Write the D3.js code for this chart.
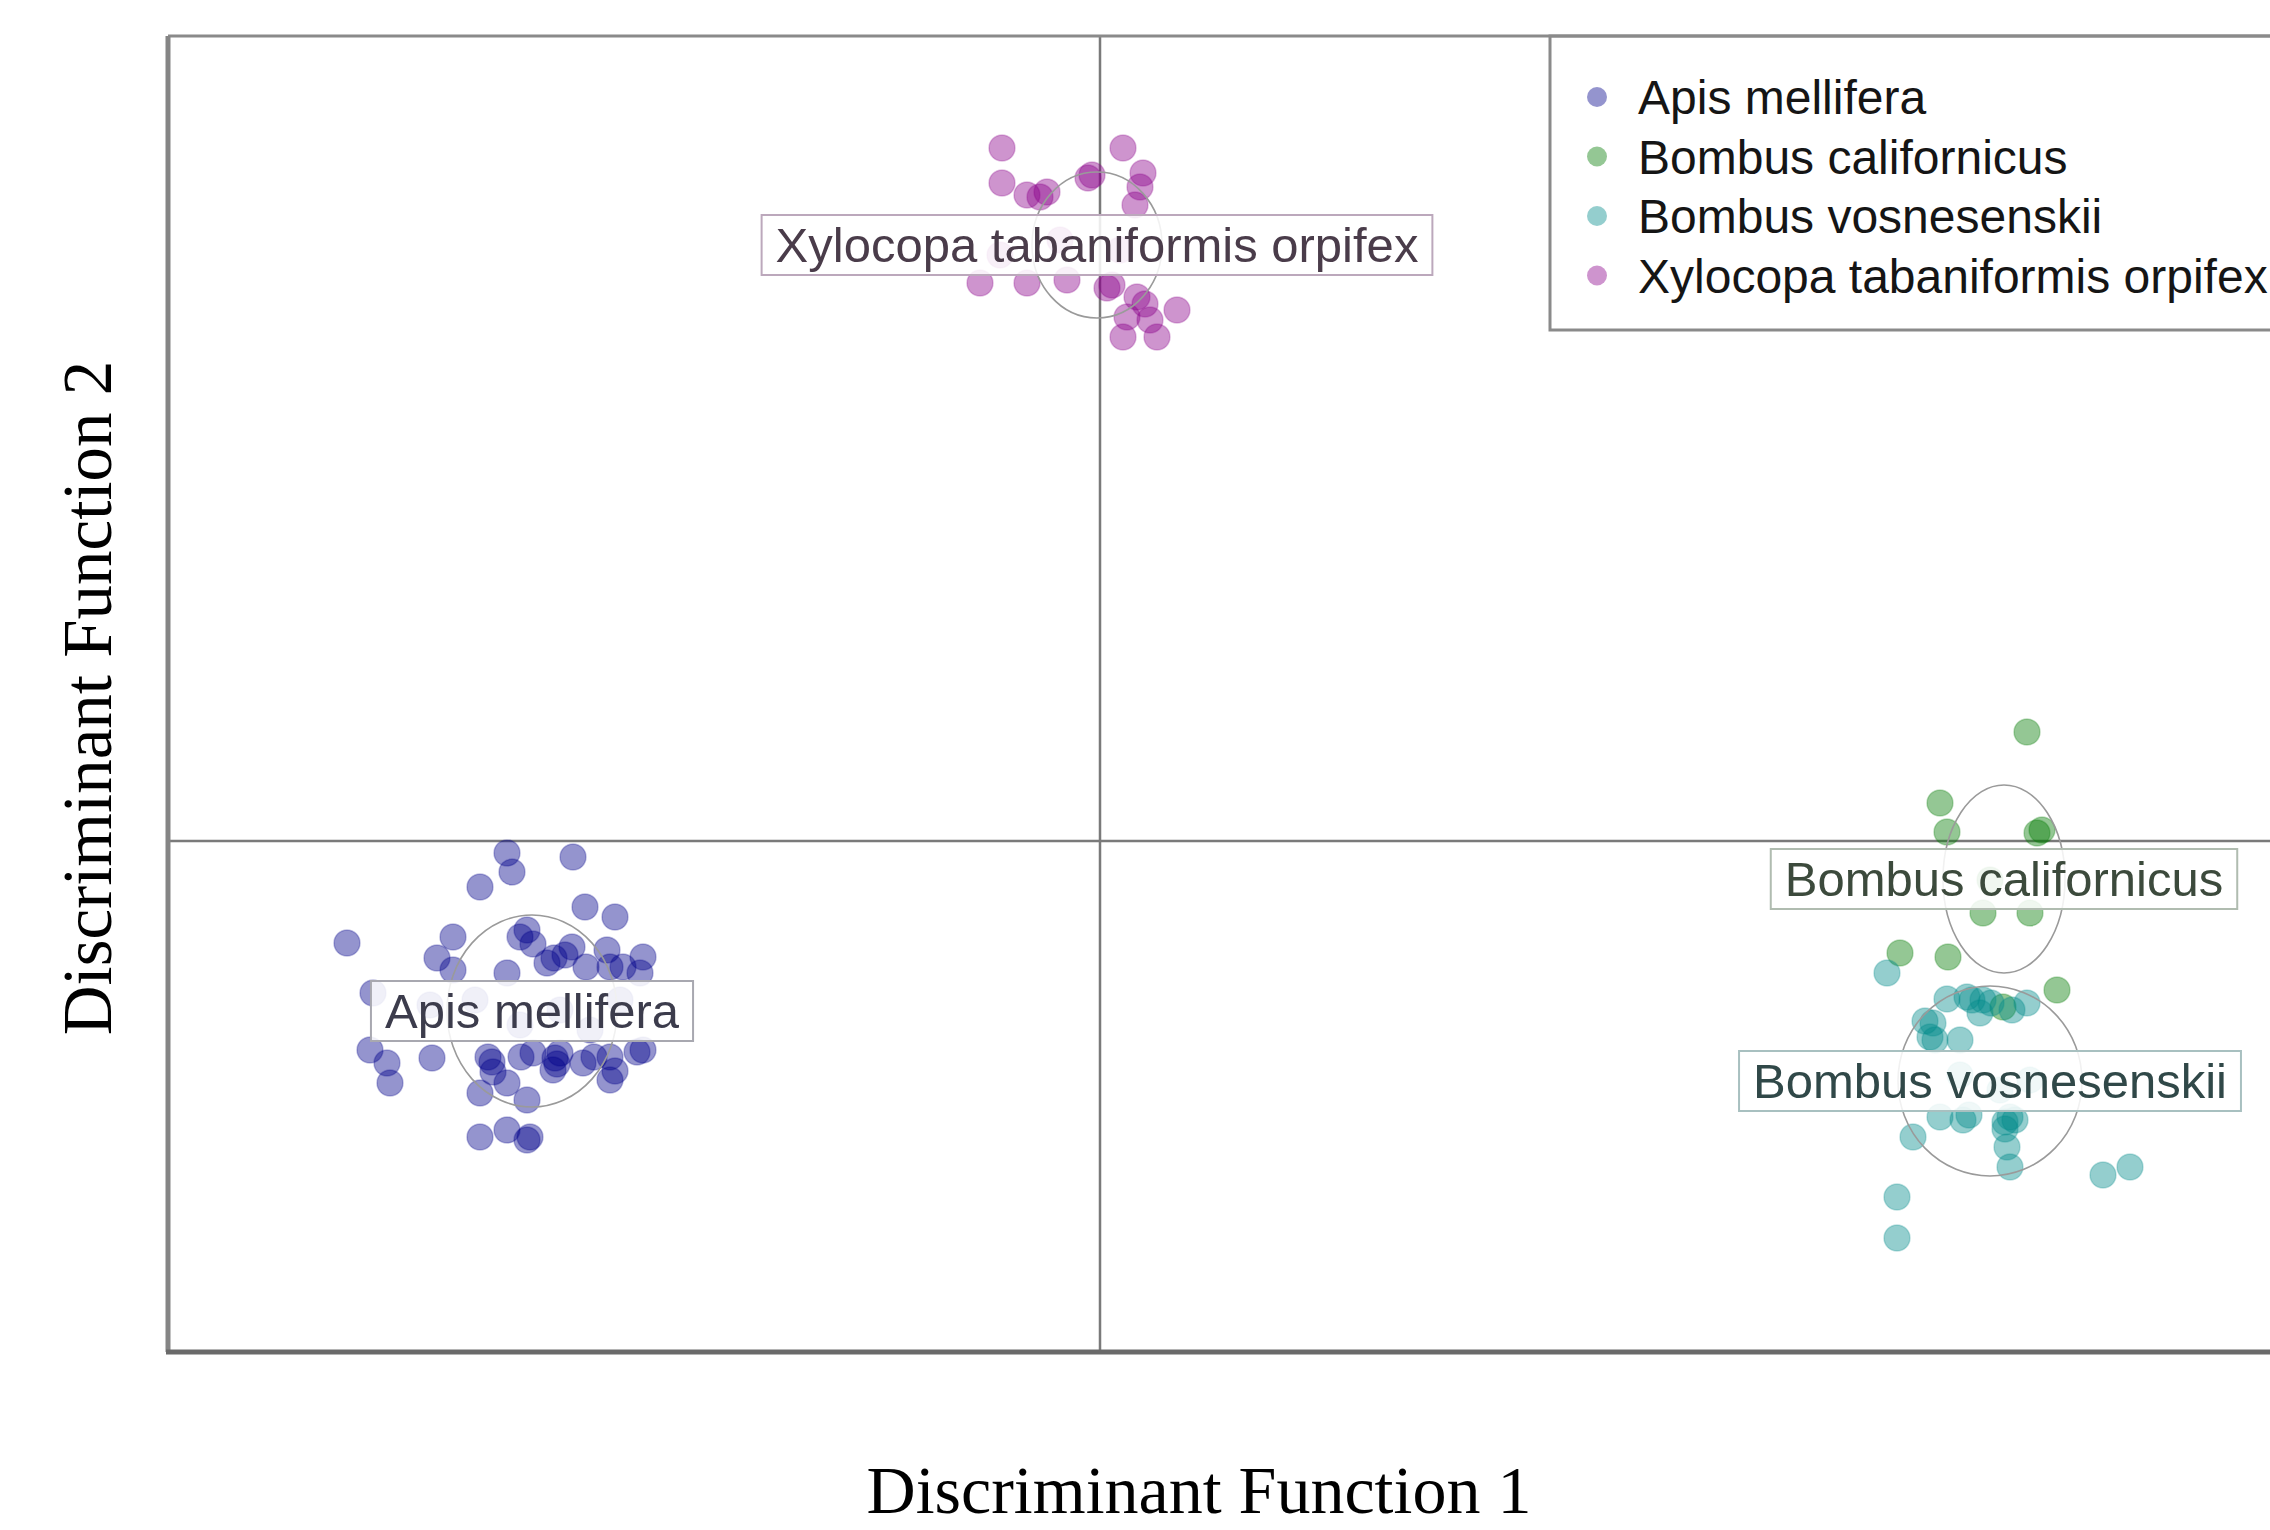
<!DOCTYPE html>
<html>
<head>
<meta charset="utf-8">
<script src="https://cdn.jsdelivr.net/npm/d3@7"></script>
<style>
  body { margin: 0; background: #fff; }
</style>
</head>
<body>
<div id="chart"></div>
<script>
// species names, in legend order
var species = ["Apis mellifera", "Bombus californicus", "Bombus vosnesenskii", "Xylocopa tabaniformis orpifex"];
var colors = ["#00008b", "#007a00", "#008b8b", "#8b008b"];

// discriminant scores [DF1, DF2]
var apis = [
    [-5.93, -0.12], [-5.27, -0.16], [-5.88, -0.31], [-6.20, -0.46], [-5.15, -0.66], [-4.85, -0.76],
    [-7.53, -1.02], [-6.47, -0.96], [-5.80, -0.96], [-5.67, -1.03], [-5.73, -0.89], [-6.63, -1.17],
    [-5.28, -1.06], [-5.35, -1.14], [-4.93, -1.09], [-4.57, -1.16], [-5.53, -1.22], [-4.90, -1.26],
    [-6.47, -1.29], [-5.93, -1.32], [-4.60, -1.32], [-7.27, -1.52], [-6.70, -1.64], [-6.25, -1.59],
    [-5.40, -1.69], [-4.80, -1.59], [-5.80, -1.84], [-5.10, -1.89], [-7.30, -2.09], [-7.13, -2.22],
    [-7.10, -2.42], [-6.68, -2.17], [-6.12, -2.16], [-6.08, -2.21], [-6.07, -2.31], [-5.67, -2.12],
    [-5.40, -2.12], [-5.45, -2.17], [-5.17, -2.22], [-4.90, -2.16], [-4.57, -2.09], [-4.90, -2.39],
    [-5.47, -2.29], [-6.20, -2.52], [-5.93, -2.42], [-5.73, -2.59], [-6.20, -2.96], [-5.93, -2.89],
    [-5.73, -2.99], [-5.70, -2.96], [-5.46, -1.17], [-5.14, -1.26], [-4.77, -1.26], [-5.06, -2.16],
    [-5.43, -2.23], [-5.79, -2.16], [-4.63, -2.11], [-4.85, -2.30]
];
var californicus = [
    [9.27, 1.09], [8.40, 0.38], [8.47, 0.09], [9.42, 0.11], [9.37, 0.08], [8.83, -0.72],
    [9.30, -0.72], [8.00, -1.12], [8.48, -1.16], [9.57, -1.49], [9.03, -1.66], [8.90, -0.39]
];
var vosnesenskii = [
    [7.87, -1.32], [8.67, -1.56], [8.72, -1.59], [8.83, -1.59], [9.27, -1.62], [8.33, -1.82],
    [8.30, -1.96], [8.35, -1.99], [8.60, -1.99], [8.80, -1.72], [8.40, -2.76], [8.63, -2.79],
    [8.13, -2.96], [9.10, -2.76], [9.05, -2.81], [9.15, -2.79], [9.07, -3.06], [9.10, -3.26],
    [10.03, -3.34], [10.30, -3.26], [7.97, -3.56], [7.97, -3.97], [8.60, -2.34], [9.30, -2.39],
    [9.00, -2.49], [8.47, -1.58], [8.91, -1.62], [9.12, -1.69], [8.25, -1.80], [8.69, -2.74],
    [9.05, -2.88]
];
var xylocopa = [
    [-0.98, 6.93], [0.23, 6.93], [-0.98, 6.58], [-0.73, 6.46], [-0.53, 6.49], [-0.60, 6.44],
    [-0.08, 6.66], [-0.12, 6.63], [0.43, 6.68], [0.40, 6.54], [0.35, 6.36], [-1.20, 5.58],
    [-0.73, 5.58], [-0.33, 5.61], [0.07, 5.53], [0.12, 5.56], [0.37, 5.44], [0.27, 5.24],
    [0.77, 5.31], [0.23, 5.04], [0.57, 5.04], [0.50, 5.21], [0.45, 5.37], [-0.40, 6.01],
    [0.20, 5.91], [-1.00, 5.86]
];
var scores = [apis, californicus, vosnesenskii, xylocopa];

// group centres [DF1, DF2] and ellipse radii [rx, ry]
var centres = [[-5.68, -1.70], [9.04, -0.38], [8.90, -2.40], [-0.03, 5.96]];
var radii = [[0.85, 0.96], [0.61, 0.94], [0.92, 0.95], [0.65, 0.73]];

var drawChart = function () {
    var width = 2270, height = 1530;
    var plotLeft = 168, plotTop = 36, plotBottom = 1352, plotRight = 2292;

    var svg = d3.select("#chart")
        .append("svg")
        .attr("width", width)
        .attr("height", height);

    // scales: origin of both functions sits on the cross lines
    var x = d3.scaleLinear().domain([-9.32, 11.92]).range([plotLeft, plotRight]);
    var y = d3.scaleLinear().domain([-5.11, 8.05]).range([plotBottom, plotTop]);

    // cross lines through zero
    svg.append("line")
        .attr("x1", x(0)).attr("x2", x(0))
        .attr("y1", plotTop).attr("y2", plotBottom)
        .style("stroke", "#7a7a7a").style("stroke-width", 2.5);
    svg.append("line")
        .attr("x1", plotLeft).attr("x2", plotRight)
        .attr("y1", y(0)).attr("y2", y(0))
        .style("stroke", "#7a7a7a").style("stroke-width", 2.5);

    // points, one group per species
    var groups = svg.selectAll("g.species")
        .data(scores)
        .enter()
        .append("g")
        .attr("class", "species");

    groups.selectAll("circle")
        .data(function (d, i) { return d.map(function (p) { return { p: p, c: colors[i] }; }); })
        .enter()
        .append("circle")
        .attr("cx", function (d) { return x(d.p[0]); })
        .attr("cy", function (d) { return y(d.p[1]); })
        .attr("r", 13)
        .style("fill", function (d) { return d.c; })
        .style("fill-opacity", 0.42)
        .style("stroke", function (d) { return d.c; })
        .style("stroke-opacity", 0.25)
        .style("stroke-width", 1.5);

    // ellipses round each group
    svg.selectAll("ellipse.group")
        .data(centres)
        .enter()
        .append("ellipse")
        .attr("cx", function (d) { return x(d[0]); })
        .attr("cy", function (d) { return y(d[1]); })
        .attr("rx", function (d, i) { return x(d[0] + radii[i][0]) - x(d[0]); })
        .attr("ry", function (d, i) { return y(d[1]) - y(d[1] + radii[i][1]); })
        .style("fill", "none")
        .style("stroke", "#9a9a9a")
        .style("stroke-width", 1.6);

    // labelled boxes at each centre
    var labelText = ["#3c3c4c", "#3c4a3c", "#304848", "#4a3c4a"];
    var labelBorder = ["#a8a8b0", "#b0bcb0", "#a8c0c0", "#bca8bc"];
    var labels = svg.selectAll("g.label")
        .data(centres)
        .enter()
        .append("g")
        .attr("class", "label")
        .attr("transform", function (d) { return "translate(" + x(d[0]) + "," + y(d[1]) + ")"; });

    var boxes = labels.append("rect")
        .attr("y", -30)
        .attr("height", 60)
        .style("fill", "#fff")
        .style("fill-opacity", 0.86)
        .style("stroke", function (d, i) { return labelBorder[i]; })
        .style("stroke-width", 2);

    var texts = labels.append("text")
        .text(function (d, i) { return species[i]; })
        .attr("y", 17)
        .style("text-anchor", "middle")
        .style("font-family", "'Liberation Sans', Arial, sans-serif")
        .style("font-size", 49)
        .style("fill", function (d, i) { return labelText[i]; });

    texts.each(function (d, i) {
        var w = this.getComputedTextLength() + 28;
        d3.select(boxes.nodes()[i]).attr("x", -w / 2).attr("width", w);
    });

    // legend
    var legend = svg.append("g");
    legend.append("rect")
        .attr("x", 1550).attr("y", plotTop)
        .attr("width", 800).attr("height", 294)
        .style("fill", "#fff")
        .style("stroke", "#8a8a8a")
        .style("stroke-width", 3);

    legend.selectAll("circle")
        .data(species)
        .enter()
        .append("circle")
        .attr("cx", 1597)
        .attr("cy", function (d, i) { return 97 + i * 59.5; }) // 97 is the first dot, 59.5 between rows
        .attr("r", 10)
        .style("fill", function (d, i) { return colors[i]; })
        .style("fill-opacity", 0.42);

    legend.selectAll("text")
        .data(species)
        .enter()
        .append("text")
        .attr("x", 1638)
        .attr("y", function (d, i) { return 97 + i * 59.5 + 17; })
        .text(function (d) { return d; })
        .style("font-family", "'Liberation Sans', Arial, sans-serif")
        .style("font-size", 48)
        .style("fill", "#151515");

    // plot frame
    svg.append("line").attr("x1", plotLeft).attr("x2", plotRight).attr("y1", plotTop).attr("y2", plotTop)
        .style("stroke", "#8a8a8a").style("stroke-width", 3);
    svg.append("line").attr("x1", plotLeft).attr("x2", plotLeft).attr("y1", plotTop).attr("y2", plotBottom)
        .style("stroke", "#858585").style("stroke-width", 5);
    svg.append("line").attr("x1", plotLeft - 2).attr("x2", plotRight).attr("y1", plotBottom).attr("y2", plotBottom)
        .style("stroke", "#6a6a6a").style("stroke-width", 5);

    // axis titles
    svg.append("text")
        .attr("x", 1199).attr("y", 1513)
        .text("Discriminant Function 1")
        .style("text-anchor", "middle")
        .style("font-family", "'Liberation Serif', 'DejaVu Serif', serif")
        .style("font-size", 68)
        .style("fill", "#000");

    svg.append("text")
        .attr("transform", "translate(111,698) rotate(-90)")
        .text("Discriminant Function 2")
        .style("text-anchor", "middle")
        .style("font-family", "'Liberation Serif', 'DejaVu Serif', serif")
        .style("font-size", 69)
        .style("fill", "#000");
};

drawChart();
</script>
</body>
</html>
